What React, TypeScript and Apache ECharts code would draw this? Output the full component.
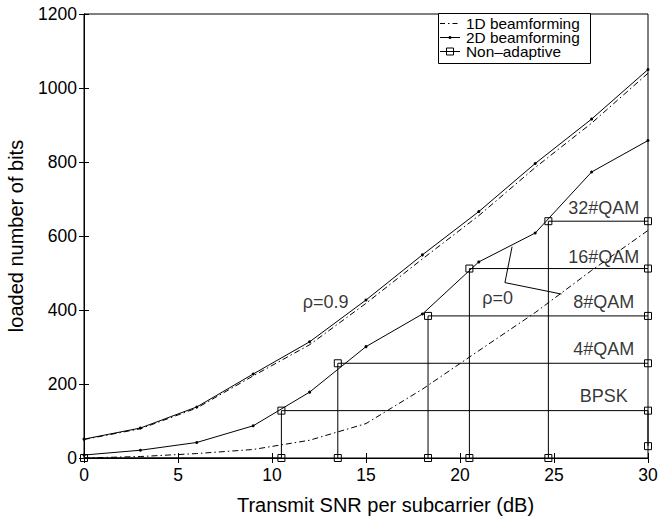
import React, { useEffect, useRef } from "react";
import * as echarts from "echarts";

const snr = [0, 3, 6, 9, 12, 15, 18, 21, 24, 27, 30];
const oneDRho09 = [50, 79, 135, 222, 306, 418, 538, 655, 785, 905, 1040];
const twoDRho09 = [51, 81, 138, 227, 314, 427, 549, 666, 796, 916, 1050];
const oneDRho0 = [0, 4, 12, 23, 48, 93, 186, 290, 393, 507, 615];
const twoDRho0 = [8, 21, 42, 87, 178, 301, 389, 530, 608, 773, 858];

const thresholdSNR = [10.5, 13.5, 18.3, 20.5, 24.7];
const levelBits = [128, 256, 384, 512, 640];
const modLabels = ["BPSK", "4#QAM", "8#QAM", "16#QAM", "32#QAM"];
const modLabelY = [168, 295, 422, 544, 676];
const modLabelX = 27.65;

const rhoLabels = ["ρ=0.9", "ρ=0"];
const rhoLabelPos = [
  [12.85, 422],
  [22.0, 432],
];
const rhoPointer = [
  [22.77, 571],
  [22.39, 474],
  [25.4, 443],
];

const legendNames = ["1D beamforming", "2D beamforming", "Non–adaptive"];

const xTicks = { min: 0, max: 30, interval: 5 };
const yTicks = { min: 0, max: 1200, interval: 200 };

const FONT = "'Liberation Sans', Arial, Helvetica, sans-serif";

export default function App() {
  const ref = useRef<HTMLDivElement>(null);
  useEffect(() => {
    if (!ref.current) return;
    const chart = echarts.init(ref.current, undefined, { renderer: "svg" });
    const zip = (ys: number[]) => snr.map((x, i) => [x, ys[i]]);
    const dashDot = [6, 3, 1.5, 3];

    const steps: any[] = thresholdSNR.map((t, i) => {
      const pts: number[][] =
        i === 0
          ? [[0, 0], [t, 0], [t, levelBits[i]], [30, levelBits[i]], [30, 32]]
          : [[t, 0], [t, levelBits[i]], [30, levelBits[i]]];
      return {
        name: "Non–adaptive",
        type: "line",
        data: pts,
        symbol: "rect",
        symbolSize: 7,
        showSymbol: true,
        itemStyle: { color: "transparent", borderColor: "#000", borderWidth: 1 },
        lineStyle: { color: "#000", width: 1 },
        z: 3,
      };
    });

    // legend drawn as graphic
    const lx = 438, ly = 13, lw = 152, lh = 50;
    const rowY = [23.5, 37.5, 51.5];
    const legendGraphic: any[] = [
      { type: "rect", shape: { x: lx + 0.5, y: ly + 0.5, width: lw, height: lh }, style: { fill: "#fff", stroke: "#000", lineWidth: 1 }, z: 100 },
      { type: "line", shape: { x1: 440, y1: rowY[0], x2: 460, y2: rowY[0] }, style: { stroke: "#000", lineWidth: 1, lineDash: [5, 3, 1.5, 3] }, z: 101 },
      { type: "line", shape: { x1: 440, y1: rowY[1], x2: 460, y2: rowY[1] }, style: { stroke: "#000", lineWidth: 1 }, z: 101 },
      { type: "circle", shape: { cx: 450, cy: rowY[1], r: 1.5 }, style: { fill: "#000" }, z: 102 },
      { type: "line", shape: { x1: 440, y1: rowY[2], x2: 460, y2: rowY[2] }, style: { stroke: "#000", lineWidth: 1 }, z: 101 },
      { type: "rect", shape: { x: 446.5, y: rowY[2] - 3.5, width: 7, height: 7 }, style: { fill: "transparent", stroke: "#000", lineWidth: 1 }, z: 102 },
      ...legendNames.map((n, i) => ({
        type: "text",
        x: 466,
        y: rowY[i] + 0.5,
        scaleX: 1.1,
        style: { text: n, fontFamily: FONT, fontSize: 14, lineHeight: 13, fill: "#000", verticalAlign: "middle", align: "left" },
        z: 102,
      })),
    ];

    const option: any = {
      animation: false,
      textStyle: { fontFamily: FONT },
      grid: {
        left: 84,
        right: 10,
        top: 14,
        bottom: 61,
        show: true,
        borderColor: "#000",
        borderWidth: 1,
        backgroundColor: "#fff",
        containLabel: false,
        outerBoundsMode: "none",
      },
      graphic: legendGraphic,
      xAxis: [
        {
          type: "value",
          ...xTicks,
          position: "bottom",
          name: "Transmit SNR per subcarrier (dB)",
          nameLocation: "middle",
          nameGap: 37,
          nameTextStyle: { fontFamily: FONT, fontSize: 20, color: "#000", padding: [0, 0, 0, 39] },
          axisLine: { show: true, lineStyle: { color: "#000", width: 1 } },
          axisTick: { show: true, inside: true, length: 5, lineStyle: { color: "#000" } },
          axisLabel: { fontFamily: FONT, fontSize: 17.5, color: "#000", margin: 8 },
          splitLine: { show: false },
        },
        {
          type: "value",
          ...xTicks,
          position: "top",
          axisLine: { show: true, lineStyle: { color: "#000", width: 1 } },
          axisTick: { show: true, inside: true, length: 5, lineStyle: { color: "#000" } },
          axisLabel: { show: false },
          splitLine: { show: false },
        },
      ],
      yAxis: [
        {
          type: "value",
          ...yTicks,
          position: "left",
          name: "loaded number of bits",
          nameLocation: "middle",
          nameGap: 58,
          nameTextStyle: { fontFamily: FONT, fontSize: 20, color: "#000" },
          axisLine: { show: true, lineStyle: { color: "#000", width: 1 } },
          axisTick: { show: true, inside: true, length: 5, lineStyle: { color: "#000" } },
          axisLabel: { fontFamily: FONT, fontSize: 17.5, color: "#000", margin: 7, formatter: (v: number) => String(v) },
          splitLine: { show: false },
        },
        {
          type: "value",
          ...yTicks,
          position: "right",
          axisLine: { show: true, lineStyle: { color: "#000", width: 1 } },
          axisTick: { show: true, inside: true, length: 5, lineStyle: { color: "#000" } },
          axisLabel: { show: false },
          splitLine: { show: false },
        },
      ],
      series: [
        {
          name: "1D beamforming",
          type: "line",
          data: zip(oneDRho09),
          symbol: "none",
          lineStyle: { color: "#000", width: 1, type: dashDot },
          itemStyle: { color: "#000" },
        },
        {
          name: "1D beamforming",
          type: "line",
          data: zip(oneDRho0),
          symbol: "none",
          lineStyle: { color: "#000", width: 1, type: dashDot },
          itemStyle: { color: "#000" },
        },
        {
          name: "2D beamforming",
          type: "line",
          data: zip(twoDRho09),
          symbol: "circle",
          symbolSize: 3,
          lineStyle: { color: "#000", width: 1 },
          itemStyle: { color: "#000" },
        },
        {
          name: "2D beamforming",
          type: "line",
          data: zip(twoDRho0),
          symbol: "circle",
          symbolSize: 3,
          lineStyle: { color: "#000", width: 1 },
          itemStyle: { color: "#000" },
        },
        ...steps,
        {
          name: "pointer",
          type: "line",
          data: rhoPointer,
          symbol: "none",
          lineStyle: { color: "#000", width: 1 },
          silent: true,
        },
        {
          name: "rhoLabels",
          type: "scatter",
          symbolSize: 0,
          data: rhoLabels.map((t, i) => ({ value: rhoLabelPos[i], name: t })),
          label: {
            show: true,
            position: "inside",
            formatter: (p: any) => p.name,
            fontFamily: FONT,
            fontSize: 18,
            color: "#000",
          },
          silent: true,
        },
        {
          name: "modLabels",
          type: "scatter",
          symbolSize: 0,
          data: modLabels.map((t, i) => ({ value: [modLabelX, modLabelY[i]], name: t })),
          label: {
            show: true,
            position: "inside",
            formatter: (p: any) => p.name,
            fontFamily: FONT,
            fontSize: 18,
            color: "#000",
          },
          silent: true,
        },
      ],
    };
    chart.setOption(option);
    return () => chart.dispose();
  }, []);
  return <div ref={ref} style={{ width: 658, height: 519, position: "absolute", left: 0, top: 0 }} />;
}
